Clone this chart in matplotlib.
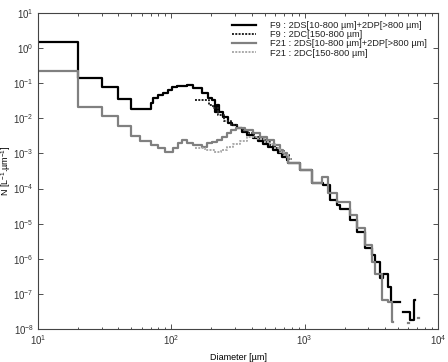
import numpy as np
import matplotlib
matplotlib.use("Agg")
import matplotlib.pyplot as plt

plt.rcParams['font.family'] = ['Liberation Sans', 'DejaVu Sans']
plt.rcParams['mathtext.fontset'] = 'custom'
plt.rcParams['mathtext.rm'] = 'Liberation Sans'
plt.rcParams['mathtext.it'] = 'Liberation Sans:italic'
plt.rcParams['mathtext.bf'] = 'Liberation Sans:bold'

nan = np.nan

# F9 : 2DS[10-800 um] + 2DP[>800 um]  (bin edges in um, N in L-1 um-1)
f9_edges = [10, 20, 30, 40, 50, 70, 73, 79, 87, 94.5, 101, 110, 131, 146, 170, 188,
            202, 211, 219, 228, 244, 266, 285, 310, 339, 370, 412, 447, 487, 531, 579,
            631, 676, 734, 755, 924, 1130, 1380, 1552, 1741, 1844, 2193, 2461, 2839,
            3187, 3373, 3679, 3890, 4250, 4430, 5200, 5500, 6180, 6620, 6730]
f9_vals = [1.46, 0.144, 0.076, 0.035, 0.019, 0.027, 0.037, 0.046, 0.053, 0.064, 0.080,
           0.085, 0.089, 0.072, 0.052, 0.037, 0.033, 0.0154, 0.024, 0.0154, 0.0111,
           0.0072, 0.0064, 0.0052, 0.0042, 0.0033, 0.0027, 0.0022, 0.0019, 0.00155,
           0.00125, 0.00101, 0.00081, 0.00065, 0.00052, 0.00034, 0.000141, 0.000126,
           4.7e-5, 3.4e-5, 2.7e-5, 1.27e-5, 5.9e-6, 2.0e-6, 1.27e-6, 8.1e-7, 2.8e-7,
           3.8e-7, 1.6e-7, 6.0e-8, nan, 3.1e-8, 1.8e-8, 6.6e-8]

# F9 : 2DC[150-800 um]
f9c_edges = [150, 190, 205, 225, 250, 280, 310, 345, 380, 420, 460, 500, 550, 600, 650,
             700, 760, 800]
f9c_vals = [0.033, 0.024, 0.0195, 0.0125, 0.0085, 0.0066, 0.0054, 0.0045, 0.0037,
            0.0030, 0.0025, 0.0021, 0.0017, 0.0014, 0.00115, 0.00090, 0.00068]

# F21 : 2DS[10-800 um] + 2DP[>800 um]
f21_edges = [10, 20, 30, 40, 50, 58, 70, 79, 90, 103, 112, 120, 131, 146, 169, 184, 201,
             219, 239, 261, 281, 306, 357, 412, 462, 520, 589, 653, 692, 734, 755, 924,
             1130, 1343, 1507, 1741, 2193, 2461, 2839, 3187, 3373, 3787, 4250, 4500,
             4600, 5920, 6070, 7030, 7210]
f21_vals = [0.227, 0.0206, 0.0116, 0.006, 0.0031, 0.0023, 0.00173, 0.0014, 0.00112,
            0.0014, 0.00194, 0.00241, 0.00194, 0.00173, 0.00155, 0.00194, 0.00216,
            0.00241, 0.0030, 0.0037, 0.00465, 0.0052, 0.00465, 0.0037, 0.0030, 0.0024,
            0.00173, 0.00125, 0.00101, 0.00079, 0.00052, 0.00034, 0.000141, 0.000217,
            7.3e-5, 4.2e-5, 1.76e-5, 7.5e-6, 2.45e-6, 8.2e-7, 3.8e-7, 6.6e-8, 6.0e-8,
            1.6e-8, nan, 1.44e-8, nan, 2.0e-8]

# F21 : 2DC[150-800 um]
f21c_edges = [150, 180, 210, 235, 260, 290, 330, 370, 410, 450, 500, 550, 600, 650, 700,
              760, 800]
f21c_vals = [0.0014, 0.00125, 0.0011, 0.00125, 0.0015, 0.0019, 0.0023, 0.0029, 0.0030,
             0.0026, 0.0021, 0.0018, 0.0014, 0.0011, 0.00088, 0.0007]

labels = ['F9 : 2DS[10-800 \u00b5m]+2DP[>800 \u00b5m]',
          'F9 : 2DC[150-800 \u00b5m]',
          'F21 : 2DS[10-800 \u00b5m]+2DP[>800 \u00b5m]',
          'F21 : 2DC[150-800 \u00b5m]']

fig = plt.figure(figsize=(4.48, 3.62), dpi=100)
ax = fig.add_axes([38/448, 1-329/362, 400/448, 316/362])


def step(edges, vals, **kw):
    y = list(vals) + [vals[-1]]
    return ax.plot(edges, y, drawstyle='steps-post', **kw)[0]

dot = (0, (1.0, 0.7))
h1 = step(f9_edges, f9_vals, color='black', lw=1.6, label=labels[0])
h2 = step(f9c_edges, f9c_vals, color='#222222', lw=1.4, ls=dot, label=labels[1])
h3 = step(f21_edges, f21_vals, color='#808080', lw=1.6, label=labels[2])
h4 = step(f21c_edges, f21c_vals, color='#aaaaaa', lw=1.4, ls=dot, label=labels[3])

ax.set_xscale('log')
ax.set_yscale('log')
ax.set_xlim(10, 1e4)
ax.set_ylim(1e-8, 1e1)
ax.set_yticks([10.0**k for k in range(-8, 2)])

ax.tick_params(which='both', direction='in', top=True, right=True, labelsize=7,
               colors='#333333', width=0.6)
ax.tick_params(which='major', length=3.5, pad=3)
ax.tick_params(which='minor', length=1.8)
for s in ax.spines.values():
    s.set_linewidth(0.8)
    s.set_color('#444444')

ax.set_xlabel('Diameter [\u00b5m]', fontsize=6.5, labelpad=4)
ax.set_ylabel('N [L$^{-1}$.\u00b5m$^{-1}$]', fontsize=6.5)
ax.yaxis.set_label_coords(-0.062, 0.5)

leg = ax.legend(handles=[h1, h2, h3, h4], loc='upper left',
                bbox_to_anchor=((232-38)/400, 1-8/316), frameon=False, fontsize=6.7,
                handlelength=2.6, handletextpad=1.5, labelspacing=0.02, borderpad=0,
                borderaxespad=0)
for t in leg.get_texts():
    t.set_color('#222222')

fig.savefig('out.png', dpi=100)
